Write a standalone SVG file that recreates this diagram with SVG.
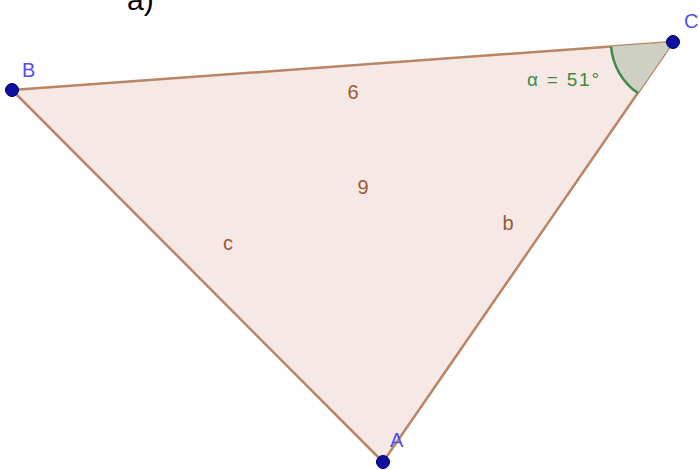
<svg xmlns="http://www.w3.org/2000/svg" width="699" height="470" viewBox="0 0 699 470">
<style>
.lbl{font-family:"Liberation Sans",Arial,sans-serif;font-size:20px;fill:#9a5a35;text-anchor:middle}
.pt{font-family:"Liberation Sans",Arial,sans-serif;font-size:20px;fill:#5050e8}
.dot{fill:#1010a0;stroke:#000060;stroke-width:1}
</style>
<rect width="699" height="470" fill="#ffffff"/>
<text x="127" y="10" font-family="Liberation Sans,Arial,sans-serif" font-size="30" fill="#000">a)</text>
<g id="triangle">
<polygon points="12,90 673,42 383,462" fill="#f6e9e5" stroke="#b98565" stroke-width="2.5" stroke-linejoin="round"/>
</g>
<g id="angle">
<path d="M673,42 L611.1,46.5 A62,62 0 0 0 637.8,93 Z" fill="#cdd0c3" stroke="none"/>
<path d="M611.1,46.5 A62,62 0 0 0 637.8,93" fill="none" stroke="#3f8a45" stroke-width="2.5"/>
<text x="527" y="86" font-family="Liberation Sans,Arial,sans-serif" font-size="19" fill="#3f8a45" textLength="72" lengthAdjust="spacing">α = 51°</text>
</g>
<g id="labels">
<text class="lbl" x="353" y="99">6</text>
<text class="lbl" x="363" y="194">9</text>
<text class="lbl" x="228" y="250">c</text>
<text class="lbl" x="508" y="230">b</text>
</g>
<g id="B"><circle class="dot" cx="12" cy="90" r="6.5"/><text class="pt" x="22" y="77">B</text></g>
<g id="C"><circle class="dot" cx="673" cy="42" r="6.5"/><text class="pt" x="684" y="28">C</text></g>
<g id="A"><circle class="dot" cx="383" cy="462" r="6.5"/><text class="pt" x="390" y="447">A</text></g>
</svg>
